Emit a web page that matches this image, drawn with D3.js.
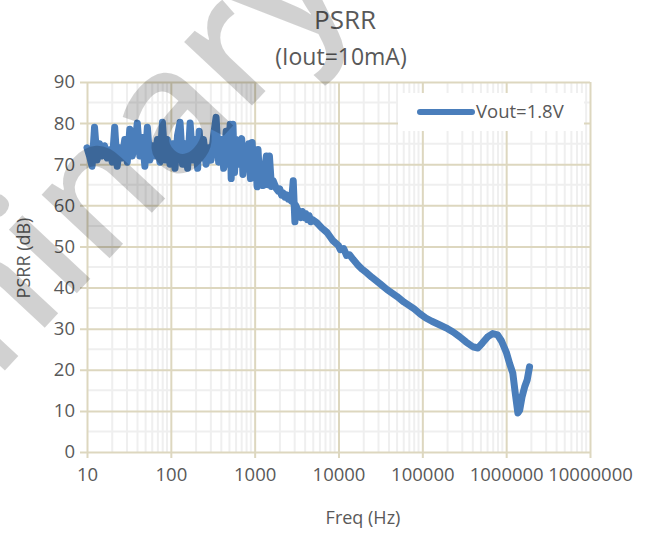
<!DOCTYPE html>
<html><head><meta charset="utf-8">
<script src="https://cdn.jsdelivr.net/npm/d3@7"></script>
<style>body{margin:0;background:#fff}svg{display:block}text{font-family:"Open Sans",sans-serif}</style>
</head><body><svg id="c" width="646" height="533"></svg>
<script>
// ---- data ----
const freqHz = [
 10,10.7,11.5,12.3,13.2,14.1,15.1,16.2,17.4,18.6,20,21.4,22.9,24.5,26.3,28.2,30.2,32.4,34.7,37.2,39.8,42.7,45.7,49,52.5,56.2,60.3,64.6,69.2,74.1,79.4,85.1,91.2,97.7,
 104.7,112.2,120.2,128.8,138,147.9,158.5,169.8,182,195,208.9,218,229,245.5,263,281.8,302,323.6,346.7,371.5,398,426.6,457,489.8,510,525,550,575,603,631,661,700,724,776,813,851,891,933,977,
 1020,1070,1096,1148,1202,1259,1318,1380,1445,1500,1585,1660,1738,1820,1905,1995,2090,2188,2291,2400,2512,2630,2754,2884,2950,3020,3090,3236,3388,3548,3715,3890,4074,4266,4467,4677,4898,
 5500,6300,7300,8500,10000,10500,11500,12500,13500,15000,17000,19000,21700,25000,31000,38000,50000,60000,70000,80000,94000,110000,130000,162000,200000,233000,280000,330000,400000,460000,520000,600000,690000,790000,880000,1010000,1100000,1200000,1280000,1380000,1450000,1550000,1660000,1780000,1900000
];
const psrrDb = [
 74,72,69.5,79,71,75,72,74.5,71.5,73.5,70.5,79,69.5,74,71.5,76,70.5,78.5,72,75,80,72,76.5,69.5,79,71,74.5,72,76,70.5,80.2,71,76,70,
 75,69,77,80.2,70,75,69,80,71,76,69,78,71.5,76,70,74,71,77,81.4,70.5,76,69,78,70,79.7,66.5,79.7,68,76,70,75,76.2,67.5,74,69,75,66.5,75.3,67,
 72,64.5,73.6,66,70,64.8,69,72,65,72,64.6,66,65,64,63.5,64,62.5,63,62,62.5,61.5,61.5,61,66,61,56,60,59,58.5,57,58.5,57,58,56.5,57.5,56,56.5,
 55.8,54.5,53.4,51.5,50.2,49.2,49.5,47.8,48,46.8,45.5,44.5,43.6,42.5,41,39.5,37.8,36.5,35.6,34.8,33.6,32.6,31.8,30.9,30,29.2,28,26.8,25.6,25.3,26.5,28,28.8,28.5,27,24.1,21.5,19.2,14.5,9.5,10.2,13.5,15.8,17.5,20.7
];
const xTickValues = [10,100,1000,10000,100000,1000000,10000000];
const xTickLabels = ["10","100","1000","10000","100000","1000000","10000000"];
const yTickValues = [0,10,20,30,40,50,60,70,80,90];
const seriesName = "Vout=1.8V";
const titleText = "PSRR";
const subtitleText = "(Iout=10mA)";
const xTitle = "Freq (Hz)";
const yTitle = "PSRR (dB)";
const watermarkText = "Preliminary";

// ---- drawing ----
const svg = d3.select("#c");
const L = 87, R = 590, T = 82, B = 452;
const x = d3.scaleLog().domain([10, 1e7]).range([L, R]);
const y = d3.scaleLinear().domain([0, 90]).range([B, T]);
const majorCol = "#ddd7bf", minorCol = "#efefef", textCol = "#595959", lineCol = "#4a7ebb";

// minor grid
const minorX = [];
xTickValues.slice(0, -1).forEach(d => { for (let k = 2; k < 10; k++) minorX.push(d * k); });
const minorY = yTickValues.slice(0, -1).map(v => v + 5);
const g = svg.append("g");
g.selectAll(".mx").data(minorX).join("line")
  .attr("x1", d => x(d)).attr("x2", d => x(d)).attr("y1", T).attr("y2", B)
  .attr("stroke", minorCol).attr("stroke-width", 2);
g.selectAll(".my").data(minorY).join("line")
  .attr("x1", L).attr("x2", R).attr("y1", d => y(d)).attr("y2", d => y(d))
  .attr("stroke", minorCol).attr("stroke-width", 2);

// axes with major grid
const xAxis = svg.append("g").attr("transform", `translate(0,${B})`)
  .call(d3.axisBottom(x).tickValues(xTickValues).tickFormat((d, i) => xTickLabels[i]).tickSizeInner(-(B - T)).tickSizeOuter(0).tickPadding(16));
xAxis.select(".domain").remove();
xAxis.selectAll(".tick line").attr("stroke", majorCol).attr("stroke-width", 2).attr("y2", 6).attr("y1", -(B - T));
xAxis.selectAll(".tick text").attr("fill", textCol).style("font-size", "18.5px").style("font-family", "Open Sans");

const yAxis = svg.append("g").attr("transform", `translate(${L},0)`)
  .call(d3.axisLeft(y).tickValues(yTickValues).tickSizeInner(-(R - L)).tickSizeOuter(0).tickPadding(12));
yAxis.select(".domain").remove();
yAxis.selectAll(".tick line").attr("stroke", majorCol).attr("stroke-width", 2).attr("x1", -7).attr("x2", R - L);
yAxis.selectAll(".tick text").attr("fill", textCol).style("font-size", "18.5px").style("font-family", "Open Sans");

// data line
const pts = freqHz.map((f, i) => [f, psrrDb[i]]);
svg.append("path").datum(pts)
  .attr("fill", "none").attr("stroke", lineCol).attr("stroke-width", 7)
  .attr("stroke-linejoin", "round").attr("stroke-linecap", "round")
  .attr("d", d3.line().x(d => x(d[0])).y(d => y(d[1])));

// legend
const lg = svg.append("g");
lg.append("rect").attr("x", 398).attr("y", 93).attr("width", 186).attr("height", 38).attr("fill", "#fff");
lg.append("line").attr("x1", 420).attr("x2", 472).attr("y1", 112).attr("y2", 112)
  .attr("stroke", lineCol).attr("stroke-width", 6).attr("stroke-linecap", "round");
lg.append("text").attr("x", 476).attr("y", 112).attr("dy", "0.35em").attr("fill", textCol)
  .style("font-size", "18.5px").text(seriesName);

// titles
svg.append("text").attr("x", 345).attr("y", 29).attr("text-anchor", "middle").attr("fill", textCol)
  .style("font-size", "26px").text(titleText);
svg.append("text").attr("x", 341).attr("y", 65).attr("text-anchor", "middle").attr("fill", textCol)
  .style("font-size", "23px").text(subtitleText);
svg.append("text").attr("x", 363).attr("y", 524).attr("text-anchor", "middle").attr("fill", textCol)
  .style("font-size", "18px").text(xTitle);
svg.append("text").attr("transform", "translate(30,258) rotate(-90)").attr("text-anchor", "middle").attr("fill", textCol)
  .style("font-size", "18px").text(yTitle);

// watermark
svg.append("text").attr("transform", "translate(356,-6) rotate(-47)").attr("text-anchor", "end")
  .attr("fill", "#000").attr("fill-opacity", 0.18).style("font-size", "172px").style("font-weight", 600)
  .text(watermarkText);
</script></body></html>
